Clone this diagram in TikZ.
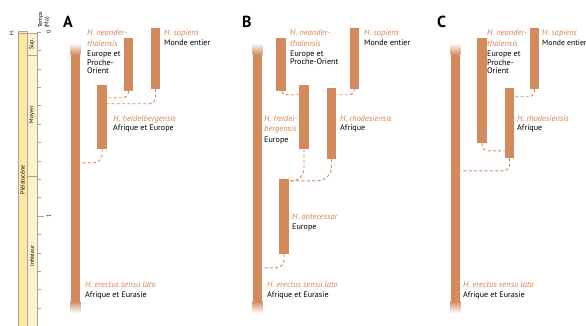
\documentclass[tikz,border=0pt]{standalone}
\usepackage{fontspec,tikz}
\setmainfont{PT Sans}
\definecolor{barc}{HTML}{D38B5E}
\definecolor{spc}{HTML}{D7834D}
\definecolor{pleist}{HTML}{FCE7A4}
\definecolor{etage}{HTML}{FDF0CF}
\definecolor{trait}{HTML}{B0A48A}
\begin{document}
\begin{tikzpicture}[x=1pt,y=-1pt,
  bar/.style={rectangle,fill=barc,inner sep=0pt,minimum width=9.5pt},
  erbar/.style={rectangle,inner sep=0pt,minimum width=9.5pt},
  link/.style={draw=barc,dash pattern=on 3pt off 2.3pt,line width=0.9pt,rounded corners=6pt},
  sp/.style={anchor=base west,inner sep=0pt,font=\fontsize{8.4}{10}\selectfont\itshape,text=spc},
  rg/.style={anchor=base west,inner sep=0pt,font=\fontsize{8.1}{10}\selectfont},
  lettre/.style={anchor=base west,inner sep=0pt,font=\fontsize{16}{19}\selectfont\bfseries},
  ech/.style={inner sep=0pt,font=\fontsize{5.8}{6.5}\selectfont,rotate=90}]
\path[use as bounding box] (0,0) rectangle (586,326);
% echelle des temps
\draw[fill=pleist,draw=trait,line width=0.5pt] (18,31) rectangle (27,327);
\draw[fill=etage,draw=trait,line width=0.5pt] (18,31) rectangle (27,33.5);
\draw[fill=etage,draw=trait,line width=0.5pt] (27,33) rectangle (37,55);
\draw[fill=etage,draw=trait,line width=0.5pt] (27,55) rectangle (37,176);
\draw[fill=etage,draw=trait,line width=0.5pt] (27,176) rectangle (37,327);
\draw[draw=trait,line width=0.5pt] (37,32) -- (41,32) (37,50.4) -- (41,50.4) (37,68.8) -- (41,68.8)
  (37,87.2) -- (41,87.2) (37,105.6) -- (41,105.6) (37,124) -- (41,124) (37,142.4) -- (41,142.4)
  (37,160.8) -- (41,160.8) (37,179.2) -- (41,179.2) (37,197.6) -- (41,197.6) (37,216) -- (44,216)
  (37,234.4) -- (41,234.4) (37,252.8) -- (41,252.8) (37,271.2) -- (41,271.2) (37,289.6) -- (41,289.6)
  (37,308) -- (41,308);
\node[ech,anchor=west] (holo) at (11.5,35.5) {H.};
\node[ech] (pleisto) at (22.5,180) {Pléistocène};
\node[ech] (sup) at (32,44) {Sup.};
\node[ech] (moyen) at (32,115) {Moyen};
\node[ech] (inf) at (32,256) {Inférieur};
\node[ech,anchor=west,align=left] (temps) at (44,28) {Temps\\(Ma)};
\node[ech] (zero) at (48.5,32) {0};
\node[ech] (un) at (48.5,216) {1};
% A
\node[lettre] (lA) at (63,28) {A};
\node[erbar,minimum height=270pt] (erA) at (75.5,178) {};
\node[bar,minimum height=53pt] (neA) at (128.5,64.5) {};
\node[bar,minimum height=61pt] (saA) at (155.5,58.5) {};
\node[bar,minimum height=64pt] (heA) at (102,117) {};
\fill[barc] ([yshift=-12pt]erA.north west) rectangle ([yshift=12pt]erA.south east);
\shade[top color=white,bottom color=barc] (erA.north west) rectangle ([yshift=-12pt]erA.north east);
\shade[top color=barc,bottom color=white] ([yshift=12pt]erA.south west) rectangle (erA.south east);
\draw[link] (neA.south) |- ([yshift=-13pt]heA.north east);
\draw[link] (saA.south) |- ([yshift=-19pt]heA.north east);
\draw[link,rounded corners=8pt] (heA.south) |- ([yshift=-120pt]erA.north east);
\node[sp] (neA1) at (87,35.5) {H. neander-};
\node[sp] (neA2) at (87,46.5) {thalensis};
\node[rg] (neA3) at (87,56.5) {Europe et};
\node[rg] (neA4) at (87,65.5) {Proche-};
\node[rg] (neA5) at (87,74) {Orient};
\node[sp] (saA1) at (164,35.5) {H. sapiens};
\node[rg] (saA2) at (164,45.5) {Monde entier};
\node[sp] (heA1) at (113,121.5) {H. heidelbergensis};
\node[rg] (heA2) at (113,131) {Afrique et Europe};
\node[sp] (erA1) at (85,287.5) {H. erectus sensu lato};
\node[rg] (erA2) at (85,297.5) {Afrique et Eurasie};
% B
\node[lettre] (lB) at (242,28) {B};
\node[erbar,minimum height=270pt] (erB) at (257.5,178) {};
\node[bar,minimum height=53pt] (neB) at (281,64.5) {};
\node[bar,minimum height=64pt] (heB) at (304,117) {};
\node[bar,minimum height=71pt] (rhB) at (331.5,123.5) {};
\node[bar,minimum height=61pt] (saB) at (354.5,58.5) {};
\node[bar,minimum height=75pt] (anB) at (284,216.5) {};
\fill[barc] ([yshift=-12pt]erB.north west) rectangle ([yshift=12pt]erB.south east);
\shade[top color=white,bottom color=barc] (erB.north west) rectangle ([yshift=-12pt]erB.north east);
\shade[top color=barc,bottom color=white] ([yshift=12pt]erB.south west) rectangle (erB.south east);
\draw[link] (neB.south) |- ([yshift=-10pt]heB.north west);
\draw[link] (saB.south) |- ([yshift=-7pt]rhB.north east);
\draw[link,rounded corners=12pt] (heB.south) |- ([yshift=-2pt]anB.north east);
\draw[link,rounded corners=14pt] (rhB.south) |- ([yshift=-2pt]anB.north east);
\draw[link,rounded corners=8pt] (anB.south) |- ([yshift=-225pt]erB.north east);
\node[sp] (neB1) at (290,35.5) {H. neander-};
\node[sp] (neB2) at (290,46.5) {thalensis};
\node[rg] (neB3) at (290,56.5) {Europe et};
\node[rg] (neB4) at (290,65) {Proche-Orient};
\node[sp] (saB1) at (364,35.5) {H. sapiens};
\node[rg] (saB2) at (364,45.5) {Monde entier};
\node[sp] (heB1) at (264,121.5) {H. heidel-};
\node[sp] (heB2) at (264,131.5) {bergensis};
\node[rg] (heB3) at (264,142.5) {Europe};
\node[sp] (rhB1) at (340,121.5) {H. rhodesiensis};
\node[rg] (rhB2) at (340,131) {Afrique};
\node[sp] (anB1) at (292,219.5) {H. antecessor};
\node[rg] (anB2) at (292,229.5) {Europe};
\node[sp] (erB1) at (267,287.5) {H. erectus sensu lato};
\node[rg] (erB2) at (267,297.5) {Afrique et Eurasie};
% C
\node[lettre] (lC) at (437,28) {C};
\node[erbar,minimum height=270pt] (erC) at (455.5,178) {};
\node[bar,minimum height=105pt] (neC) at (482,90.5) {};
\node[bar,minimum height=61pt] (saC) at (534.5,58.5) {};
\node[bar,minimum height=70pt] (rhC) at (509.5,123) {};
\fill[barc] ([yshift=-12pt]erC.north west) rectangle ([yshift=12pt]erC.south east);
\shade[top color=white,bottom color=barc] (erC.north west) rectangle ([yshift=-12pt]erC.north east);
\shade[top color=barc,bottom color=white] ([yshift=12pt]erC.south west) rectangle (erC.south east);
\draw[link] (saC.south) |- ([yshift=-9pt]rhC.north east);
\draw[link] (neC.south) |- ([yshift=-63pt]rhC.north west);
\draw[link] (rhC.south) |- ([yshift=-128pt]erC.north east);
\node[sp] (neC1) at (487,35.5) {H. neander-};
\node[sp] (neC2) at (487,46.5) {thalensis};
\node[rg] (neC3) at (487,56.5) {Europe et};
\node[rg] (neC4) at (487,65.5) {Proche-};
\node[rg] (neC5) at (487,74) {Orient};
\node[sp] (saC1) at (542,35.5) {H. sapiens};
\node[rg,font=\fontsize{7.8}{10}\selectfont] (saC2) at (542,45.5) {Monde entier};
\node[sp] (rhC1) at (517,121.5) {H. rhodesiensis};
\node[rg] (rhC2) at (517,131) {Afrique};
\node[sp] (erC1) at (463,287.5) {H. erectus sensu lato};
\node[rg] (erC2) at (463,297.5) {Afrique et Eurasie};
\end{tikzpicture}
\end{document}
